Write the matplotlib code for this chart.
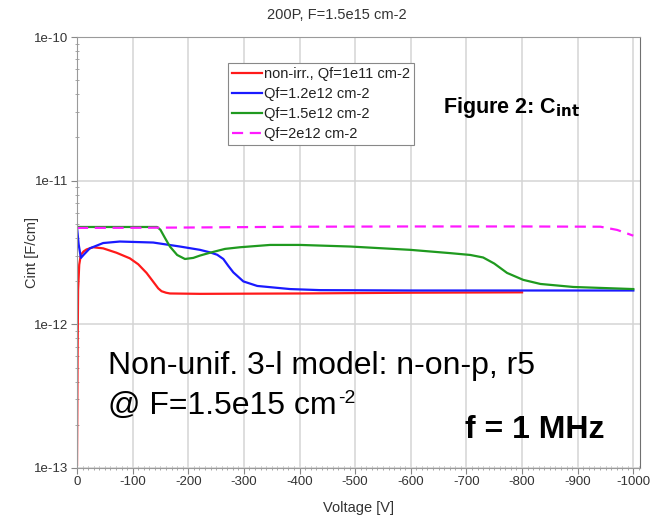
import math
import matplotlib
matplotlib.use("Agg")
import matplotlib.pyplot as plt
from matplotlib.ticker import FixedLocator, LogLocator, MultipleLocator, NullFormatter, FuncFormatter

plt.rcParams['font.family'] = ['Liberation Sans', 'DejaVu Sans']

# interstrip capacitance vs bias voltage
v_red = [0, -0.5, -1, -2, -4, -7, -12, -17, -29, -47, -71, -95, -110, -125, -137, -146, -152, -160, -167, -221,
         -400, -600, -800]
c_red = [1.05e-13, 2.5e-13, 6.0e-13, 1.75e-12, 2.6e-12, 3.05e-12, 3.22e-12, 3.32e-12, 3.44e-12, 3.38e-12,
         3.15e-12, 2.88e-12, 2.62e-12, 2.28e-12, 1.98e-12, 1.78e-12, 1.70e-12, 1.66e-12, 1.64e-12, 1.63e-12,
         1.64e-12, 1.66e-12, 1.67e-12]

v_blue = [0, -3, -7, -12, -23, -47, -77, -137, -185, -221, -239, -252, -263, -272, -281, -299, -324, -383,
          -437, -600, -800, -1000]
c_blue = [4.76e-12, 3.6e-12, 2.9e-12, 3.05e-12, 3.38e-12, 3.68e-12, 3.77e-12, 3.71e-12, 3.48e-12, 3.30e-12,
          3.17e-12, 3.05e-12, 2.85e-12, 2.55e-12, 2.30e-12, 1.99e-12, 1.85e-12, 1.76e-12, 1.73e-12, 1.72e-12,
          1.72e-12, 1.72e-12]

v_green = [0, -144, -150, -158, -167, -180, -194, -209, -221, -239, -266, -293, -347, -401, -491, -599, -671,
           -707, -730, -750, -773, -802, -833, -892, -1000]
c_green = [4.76e-12, 4.76e-12, 4.55e-12, 4.00e-12, 3.48e-12, 3.04e-12, 2.85e-12, 2.90e-12, 3.01e-12,
           3.15e-12, 3.35e-12, 3.44e-12, 3.57e-12, 3.57e-12, 3.48e-12, 3.30e-12, 3.13e-12, 3.04e-12, 2.92e-12,
           2.65e-12, 2.28e-12, 2.04e-12, 1.91e-12, 1.82e-12, 1.76e-12]

v_mag = [0, -100, -200, -400, -600, -800, -941, -971, -1000]
c_mag = [4.69e-12, 4.70e-12, 4.72e-12, 4.78e-12, 4.80e-12, 4.80e-12, 4.78e-12, 4.54e-12, 4.14e-12]

labels = ["non-irr., Qf=1e11 cm-2", "Qf=1.2e12 cm-2", "Qf=1.5e12 cm-2", "Qf=2e12 cm-2"]
decades = [1e-13, 1e-12, 1e-11, 1e-10]

fig = plt.figure(figsize=(6.54, 5.18), dpi=100)
ax = fig.add_axes([77 / 654, 1 - 468 / 518, 563 / 654, 431 / 518])

ax.plot(v_red, c_red, color="#ff1a1a", lw=1.6, label=labels[0])
ax.plot(v_blue, c_blue, color="#1a1aff", lw=1.6, label=labels[1])
ax.plot(v_green, c_green, color="#1f9a1f", lw=1.6, label=labels[2])
ax.plot(v_mag, c_mag, color="#ff1aff", lw=1.6, ls=(0, (5, 3)), label=labels[3])

ax.set_yscale("log")
ax.set_ylim(decades[0], decades[-1])
ax.set_xlim(0, -1012)

ax.xaxis.set_major_locator(MultipleLocator(100))
ax.xaxis.set_minor_locator(MultipleLocator(10))
ax.xaxis.set_major_formatter(FuncFormatter(lambda x, p: "%d" % round(x)))
ax.yaxis.set_major_locator(FixedLocator(decades))
ax.yaxis.set_minor_locator(LogLocator(base=10, subs=range(2, 10), numticks=10))
ax.yaxis.set_minor_formatter(NullFormatter())
ax.yaxis.set_major_formatter(FuncFormatter(lambda y, p: "1e%d" % round(math.log10(y))))

ax.grid(True, which="major", color="#d4d4d4", lw=1.1)
ax.set_axisbelow(True)

for side in ["left", "bottom", "top"]:
    ax.spines[side].set_color("#9a9a9a")
ax.spines["right"].set_color("#707070")
ax.tick_params(which="major", length=4, color="#888888", labelsize=9.5, labelcolor="#333333", pad=2)
ax.tick_params(which="minor", length=3, direction="inout", color="#999999")
ax.tick_params(axis="y", which="minor", length=2.5, direction="inout")

ax.set_xlabel("Voltage [V]", fontsize=10.5, color="#333333", labelpad=9)
ax.set_ylabel("Cint [F/cm]", fontsize=10.5, color="#333333", labelpad=-3)
fig.text(337 / 654, 1 - 15 / 518, "200P, F=1.5e15 cm-2", ha="center", va="center", fontsize=10.5, color="#333333")

leg = ax.legend(loc="upper left", bbox_to_anchor=(228 / 654, 1 - 63 / 518), bbox_transform=fig.transFigure,
                borderaxespad=0, fontsize=10.5, handlelength=2.0, handletextpad=0.15, labelspacing=0.4,
                borderpad=0.3, fancybox=False, framealpha=1, edgecolor="#888888")
leg.get_frame().set_linewidth(0.8)
for t in leg.get_texts():
    t.set_color("#222222")

fig.text(443 / 654, 1 - 108 / 518, r"Figure 2: C$_{\mathbf{int}}$", ha="left", va="center",
         fontsize=15.5, fontweight="bold")
fig.text(108 / 654, 1 - 366 / 518, "Non-unif. 3-l model: n-on-p, r5", ha="left", va="center", fontsize=23)
line2 = fig.text(108 / 654, 1 - 406 / 518, "@ F=1.5e15 cm", ha="left", va="center", fontsize=23)
ax.annotate("-2", xy=(1, 1), xycoords=line2, xytext=(1, 1), textcoords="offset points",
            ha="left", va="top", fontsize=14)
fig.text(465 / 654, 1 - 430 / 518, "f = 1 MHz", ha="left", va="center", fontsize=23, fontweight="bold")

fig.savefig("out.png", dpi=100)
